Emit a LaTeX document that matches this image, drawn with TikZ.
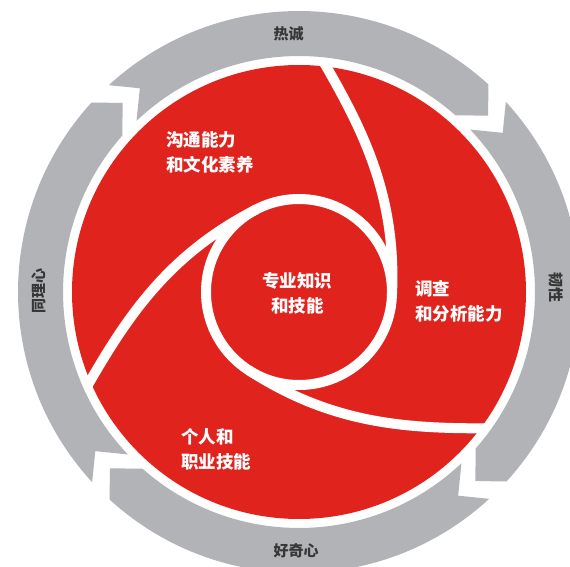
\documentclass[tikz,border=0pt]{standalone}
\usepackage{fontspec}
\newfontfamily\cjk{Noto Sans CJK SC}
\usetikzlibrary{positioning}
\definecolor{swirlred}{RGB}{225,35,30}
\definecolor{ringgray}{RGB}{178,179,182}
\definecolor{labelgray}{RGB}{55,55,55}
\tikzset{
    %Define style for the gray arrow segments
    ringseg/.style={fill=ringgray},
    %Define style for the white swirl lines
    swirl/.style={draw=white, line width=10pt},
    %Labels inside the red disc
    redlbl/.style={
           text=white,
           font={\cjk\bfseries\fontsize{17.5}{25}\selectfont},
           align=left,
           inner sep=0pt},
    %Labels on the gray ring
    graylbl/.style={
           text=labelgray,
           font={\cjk\bfseries\fontsize{15}{18}\selectfont},
           inner sep=0pt}
}

\begin{document}
\begin{tikzpicture}[x=1pt, y=1pt]
 \useasboundingbox (-299,-275) rectangle (271,292);

 % gray ring of arrows
 \foreach \r in {0,90,180,270}
   \fill[ringseg, rotate=-\r] (132.6:281) arc[start angle=132.6, end angle=47.6, radius=281]
      -- (43:258.5) -- (48.5:236) arc[start angle=48.5, end angle=133.5, radius=236]
      -- (128:258.5) -- cycle;

 % red disc with swirl
 \fill[swirlred] (0,0) circle[radius=227];
 \draw[swirl] (0,0) circle[radius=93];
 \foreach \a in {0,120,240}
   \draw[swirl, rotate=\a] (84:232) .. controls +(-60:80) and +(87:100) .. (-3:93);

 \node[graylbl] (warmth) at (-10.5,258) {热诚};
 \node[graylbl, rotate=-90] (grit) at (257,4) {韧性};
 \node[graylbl] (curious) at (-3,-258.5) {好奇心};
 \node[graylbl, rotate=90] (empathy) at (-260.5,0.5) {同理心};

 \node[redlbl, align=center] (core) at (-1.5,-1.5) {专业知识\\和技能};
 \node[redlbl, anchor=west] (comm) at (-133,139.5) {沟通能力\\和文化素养};
 \node[redlbl, anchor=west] (research) at (116,-9) {调查\\和分析能力};
 \node[redlbl, anchor=west] (personal) at (-118,-157.5) {个人和\\职业技能};
\end{tikzpicture}
\end{document}
